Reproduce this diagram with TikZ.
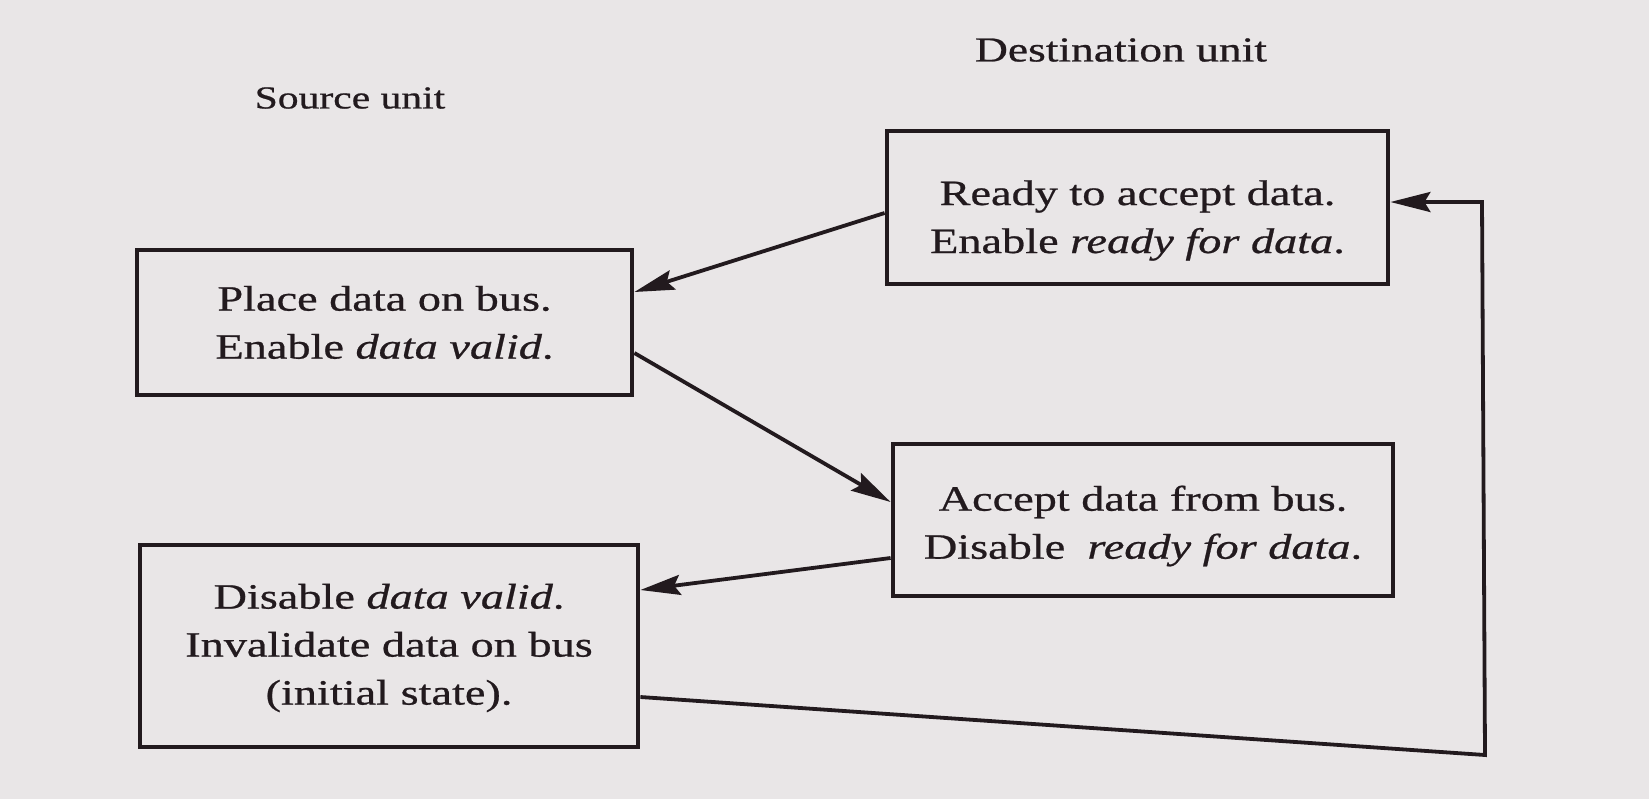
\documentclass[tikz,border=0pt]{standalone}
\usepackage{fontspec}
\setmainfont{Liberation Serif}[FakeStretch=1.3,FakeBold=0.7]
\usetikzlibrary{arrows.meta}
\definecolor{paper}{RGB}{233,230,231}
\definecolor{ink}{RGB}{34,26,30}
\begin{document}
\begin{tikzpicture}[x=0.5pt,y=-0.5pt,
  box/.style={draw=ink, line width=2.4pt, inner sep=0pt},
  txt/.style={align=center, inner sep=0pt, text=ink,
    font=\fontsize{17.8pt}{24pt}\selectfont},
  lbl/.style={inner sep=0pt, text=ink},
  conn/.style={draw=ink, line width=1.9pt, line join=miter,
    -{Stealth[length=20pt,width=10pt,inset=3pt]}}]
\useasboundingbox (0,0) rectangle (1649,799);
\fill[paper] (0,0) rectangle (1649,799);

\node[lbl, font=\fontsize{16pt}{19pt}\selectfont] (src) at (350,98) {Source unit};
\node[lbl, font=\fontsize{17.5pt}{20pt}\selectfont] (dst) at (1121,50) {Destination unit};

\node[box, minimum width=250.5pt, minimum height=76.5pt] (b1) at (1137.5,207.5) {};
\node[txt] (t1) at ([yshift=-6.5pt]b1.center)
  {Ready to accept data.\\Enable \textit{ready for data}.};
\node[box, minimum width=247.5pt, minimum height=72.5pt] (b2) at (384.5,322.5) {};
\node[txt] (t2) at (b2.center)
  {Place data on bus.\\Enable \textit{data valid}.};
\node[box, minimum width=250pt, minimum height=76pt] (b3) at (1143,520) {};
\node[txt] (t3) at ([yshift=-3pt]b3.center)
  {Accept data from bus.\\Disable\hspace{0.3em} \textit{ready for data}.};
\node[box, minimum width=249pt, minimum height=101pt] (b4) at (389,646) {};
\node[txt] (t4) at ([yshift=-1pt]b4.center)
  {Disable \textit{data valid}.\\Invalidate data on bus\\(initial state).};

\coordinate (c1) at (1485,755);
\coordinate (c2) at (1482,202);

\draw[conn] ([yshift=-2.75pt]b1.west) -- ([yshift=15.25pt]b2.east);
\draw[conn] ([yshift=-15.25pt]b2.east) -- ([yshift=9pt]b3.west);
\draw[conn] ([yshift=-19pt]b3.west) -- ([yshift=28pt]b4.east);
\draw[conn] ([yshift=-25.5pt]b4.east) -- (c1) -- (c2) -- (c2 -| b1.east);
\end{tikzpicture}
\end{document}
